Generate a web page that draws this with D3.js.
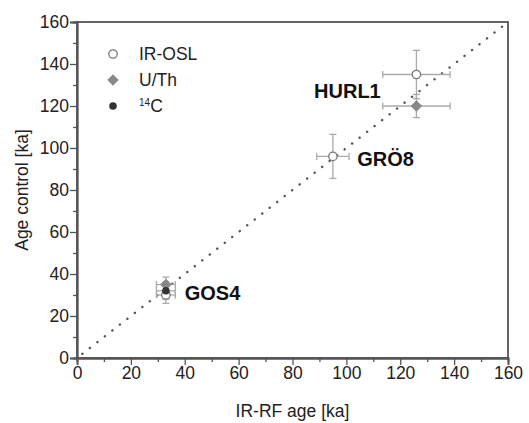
<!DOCTYPE html>
<html><head><meta charset="utf-8">
<script src="https://cdn.jsdelivr.net/npm/d3@7"></script>
<style>body{margin:0;background:#fff}svg{display:block}text{font-family:"Liberation Sans",Arial,sans-serif}</style>
</head><body>
<script>
// data
const samples = ["HURL1","HURL1","GRÖ8","GOS4","GOS4","GOS4"];
const methods = ["IR-OSL","U/Th","IR-OSL","IR-OSL","U/Th","14C"];
const xVals = [126,126,95,33,33,33];
const yVals = [135,120,96,30,35,32];
const xErr = [12.5,12.5,6,3.5,3.5,3.5];
const yErr = [11.5,5.5,10.5,4,3.5,4];
const labelNames = ["HURL1","GRÖ8","GOS4"];
const labelX = [88,104,40];
const labelY = [124,91.4,27.6];
const ticks = [0,20,40,60,80,100,120,140,160];
const minorTicks = [10,30,50,70,90,110,130,150];

const W=529,H=423;
const m={l:77,r:21,t:22,b:65};
const svg=d3.select("body").append("svg").attr("width",W).attr("height",H);
const x=d3.scaleLinear().domain([0,160]).range([m.l,W-m.r]);
const y=d3.scaleLinear().domain([0,160]).range([H-m.b,m.t]);

// 1:1 line
svg.append("line").attr("x1",x(2)).attr("y1",y(2)).attr("x2",x(158)).attr("y2",y(158))
  .attr("stroke","#555").attr("stroke-width",2.4).attr("stroke-dasharray","0.1 9.4").attr("stroke-linecap","round");

// frame
const axC="#555";
svg.append("rect").attr("x",x(0)).attr("y",y(160)).attr("width",x(160)-x(0)).attr("height",y(0)-y(160))
  .attr("fill","none").attr("stroke",axC).attr("stroke-width",1.8);

const xa=svg.append("g").attr("transform",`translate(0,${y(0)})`)
  .call(d3.axisBottom(x).tickValues(ticks).tickSize(7).tickPadding(2).tickFormat(d3.format("d")));
const xm=svg.append("g").attr("transform",`translate(0,${y(0)})`)
  .call(d3.axisBottom(x).tickValues(minorTicks).tickSize(4).tickFormat(""));
const ya=svg.append("g").attr("transform",`translate(${x(0)},0)`)
  .call(d3.axisLeft(y).tickValues(ticks).tickSize(7).tickPadding(1).tickFormat(d3.format("d")));
const ym=svg.append("g").attr("transform",`translate(${x(0)},0)`)
  .call(d3.axisLeft(y).tickValues(minorTicks).tickSize(4).tickFormat(""));
[xa,xm,ya,ym].forEach(g=>{g.select(".domain").attr("stroke",axC).attr("stroke-width",1.8);
  g.selectAll(".tick line").attr("stroke",axC).attr("stroke-width",1.3);
  g.selectAll("text").attr("font-size",17.5).attr("fill","#222").attr("font-family","Liberation Sans, Arial, sans-serif");});

svg.append("text").attr("x",(x(0)+x(160))/2).attr("y",417).attr("text-anchor","middle")
  .attr("font-size",17.5).attr("fill","#222").text("IR-RF age [ka]");
svg.append("text").attr("transform",`translate(28,${(y(0)+y(160))/2}) rotate(-90)`).attr("text-anchor","middle")
  .attr("font-size",17.5).attr("fill","#222").text("Age control [ka]");

// error bars
const eC="#aaa";
const data=xVals.map((v,i)=>({x:v,y:yVals[i],xe:xErr[i],ye:yErr[i],m:methods[i]}));
const cap=3.5;
const eb=svg.append("g").attr("stroke",eC).attr("stroke-width",1.3);
data.forEach(d=>{
  eb.append("line").attr("x1",x(d.x-d.xe)).attr("x2",x(d.x+d.xe)).attr("y1",y(d.y)).attr("y2",y(d.y));
  eb.append("line").attr("x1",x(d.x-d.xe)).attr("x2",x(d.x-d.xe)).attr("y1",y(d.y)-cap).attr("y2",y(d.y)+cap);
  eb.append("line").attr("x1",x(d.x+d.xe)).attr("x2",x(d.x+d.xe)).attr("y1",y(d.y)-cap).attr("y2",y(d.y)+cap);
  eb.append("line").attr("x1",x(d.x)).attr("x2",x(d.x)).attr("y1",y(d.y-d.ye)).attr("y2",y(d.y+d.ye));
  eb.append("line").attr("x1",x(d.x)-cap).attr("x2",x(d.x)+cap).attr("y1",y(d.y-d.ye)).attr("y2",y(d.y-d.ye));
  eb.append("line").attr("x1",x(d.x)-cap).attr("x2",x(d.x)+cap).attr("y1",y(d.y+d.ye)).attr("y2",y(d.y+d.ye));
});

function drawSym(g,m,cx,cy){
  if(m==="IR-OSL") g.append("circle").attr("cx",cx).attr("cy",cy).attr("r",4.2).attr("fill","#fff").attr("stroke","#777").attr("stroke-width",1.3);
  else if(m==="U/Th") g.append("path").attr("d",d3.symbol(d3.symbolDiamond2,70)()).attr("transform",`translate(${cx},${cy})`).attr("fill","#888").attr("stroke","#888");
  else g.append("circle").attr("cx",cx).attr("cy",cy).attr("r",3.8).attr("fill","#333");
}
const pts=svg.append("g");
data.forEach(d=>drawSym(pts,d.m,x(d.x),y(d.y)));

// sample labels
labelNames.forEach((n,i)=>svg.append("text").attr("x",x(labelX[i])).attr("y",y(labelY[i]))
  .attr("font-size",20).attr("font-weight","bold").attr("fill","#111").text(n));

// legend
const legM=["IR-OSL","U/Th","14C"];
const lg=svg.append("g");
legM.forEach((mm,i)=>{
  const cy=54+i*26;
  drawSym(lg,mm,113,cy);
  const t=lg.append("text").attr("x",139).attr("y",cy+6).attr("font-size",17.5).attr("fill","#222");
  if(mm==="14C"){t.append("tspan").attr("font-size",10).attr("dy",-6).text("14");t.append("tspan").attr("dy",6).text("C");}
  else t.text(mm);
});
</script>
</body></html>
